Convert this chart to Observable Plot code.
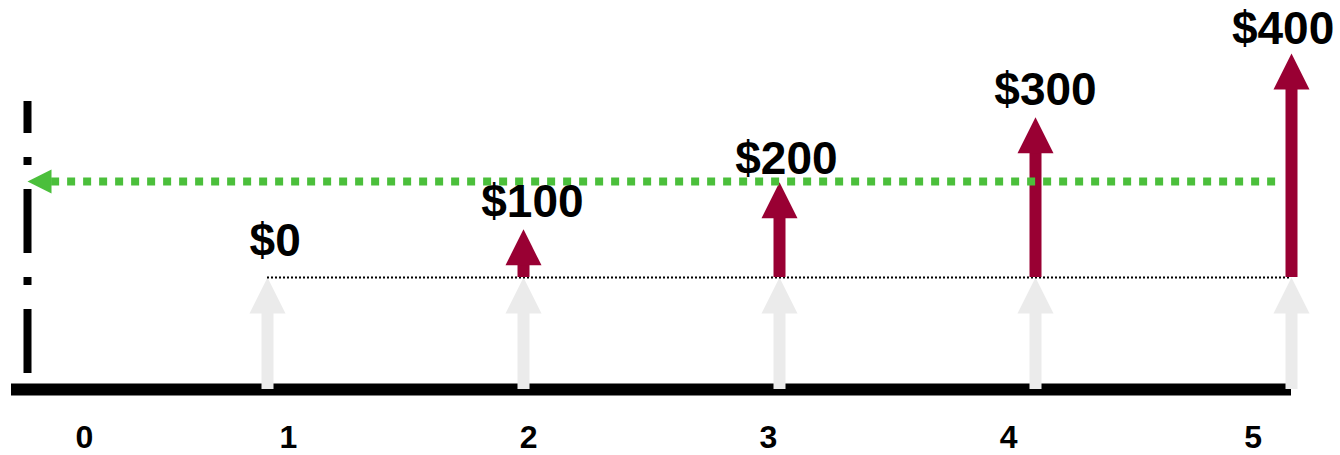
<!DOCTYPE html>
<html>
<head>
<meta charset="utf-8">
<script src="https://cdn.jsdelivr.net/npm/d3@7"></script>
<script src="https://cdn.jsdelivr.net/npm/@observablehq/plot@0.6"></script>
<style>
  html, body { margin: 0; padding: 0; background: #fff; }
  #chart svg { display: block; }
</style>
</head>
<body>
<div id="chart"></div>
<script>
// ---- data (chart units: x = period, y = height in "grey arrow" units) ----
const periods = [0, 1, 2, 3, 4, 5];
const periodLabelX = [0.285, 1.082, 2.020, 2.957, 3.895, 4.850];
const periodLabelY = -0.518;

const flowPeriods = [1, 2, 3, 4, 5];
const cashAmounts = [0, 100, 200, 300, 400];
const cashLabels = ["$0", "$100", "$200", "$300", "$400"];
const arrowTop = [1.0, 1.43, 1.85, 2.43, 3.0];      // tip of each red arrow
const cashLabelX = [1.03, 2.035, 3.027, 4.039, 4.967];
const cashLabelY = [1.196, 1.536, 1.92, 2.536, 3.089];

const baseLevel = 1.0;        // top of grey arrows / dotted base line
const pvLevel = 1.857;        // green present-value arrow
const pvStart = 4.938, pvTip = 0.0625, pvHeadBase = 0.156;
const axisX = 0.0625, axisBottom = 0.143, axisTop = 2.571;

// ---- derived tables ----
const grey = flowPeriods.map((p) => ({ x: p, top: baseLevel }));
const red = flowPeriods.map((p, i) => ({ x: p, amount: cashAmounts[i], top: arrowTop[i] })).filter((d) => d.amount > 0);
const cashText = flowPeriods.map((p, i) => ({ x: cashLabelX[i], y: cashLabelY[i], label: cashLabels[i] }));
const periodText = periods.map((p, i) => ({ x: periodLabelX[i], y: periodLabelY, label: String(p) }));

const headUp = {
  draw(ctx, size) {
    const r = Math.sqrt(size / Math.PI);
    ctx.moveTo(0, 0);
    ctx.lineTo(r, 2 * r);
    ctx.lineTo(-r, 2 * r);
    ctx.closePath();
  }
};

const W = 1340, H = 455;
const font = "'Liberation Sans', Arial, Helvetica, sans-serif";
const RED = "#990033", GREY = "#ebebeb", GREEN = "#4bbf3b";

const chart = Plot.plot({
  width: W,
  height: H,
  margin: 0,
  x: { domain: [-11 / 256, 1329 / 256], axis: null },
  y: { domain: [-66 / 112, 389 / 112], axis: null },
  style: { fontFamily: font, background: "#fff" },
  marks: [
    // timeline
    Plot.ruleY([0], { x1: 0, x2: 5, stroke: "#000", strokeWidth: 12 }),
    // grey arrows
    Plot.ruleX(grey, { x: "x", y1: 0, y2: (d) => d.top - 0.2, stroke: GREY, strokeWidth: 12 }),
    Plot.dot(grey, { x: "x", y: "top", symbol: headUp, r: 18, fill: GREY, stroke: "none" }),
    // dotted base line
    Plot.ruleY([baseLevel], { x1: 1, x2: 5, stroke: "#000", strokeWidth: 2, strokeDasharray: "2,2" }),
    // red cash-flow arrows
    Plot.ruleX(red, { x: "x", y1: baseLevel, y2: (d) => d.top - 0.2, stroke: RED, strokeWidth: 12 }),
    Plot.dot(red, { x: "x", y: "top", symbol: headUp, r: 18, fill: RED, stroke: "none" }),
    // green PV arrow
    Plot.ruleY([pvLevel], { x1: pvStart, x2: pvHeadBase, stroke: GREEN, strokeWidth: 8, strokeDasharray: "8,8" }),
    Plot.dot([{ x: pvTip, y: pvLevel }], { x: "x", y: "y", symbol: headUp, r: 12, rotate: -90, fill: GREEN, stroke: "none" }),
    // dash-dot vertical axis
    Plot.ruleX([axisX], { y1: axisBottom, y2: axisTop, stroke: "#000", strokeWidth: 8, strokeDasharray: "64,24,8,24" }),
    // labels
    Plot.text(cashText, { x: "x", y: "y", text: "label", fontSize: 46, fontWeight: "bold", fill: "#000", lineAnchor: "bottom", textAnchor: "middle" }),
    Plot.text(periodText, { x: "x", y: "y", text: "label", fontSize: 32, fontWeight: "bold", fill: "#000", lineAnchor: "bottom", textAnchor: "middle" })
  ]
});

document.getElementById("chart").appendChild(chart);
</script>
</body>
</html>
